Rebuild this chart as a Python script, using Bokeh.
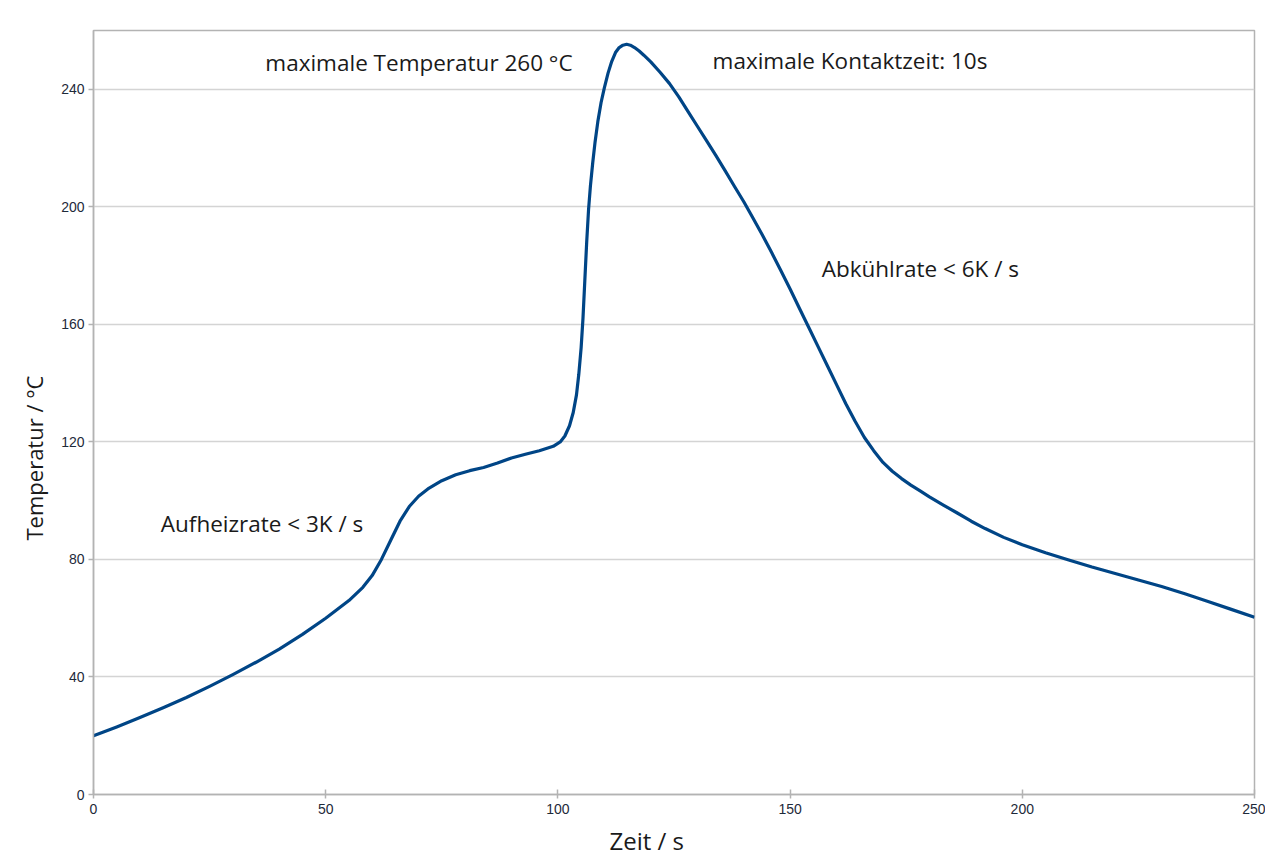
from bokeh.plotting import figure
from bokeh.models import Label, FixedTicker, Range1d, Title
from bokeh.embed import file_html
from bokeh.resources import INLINE

# Data
zeit = [0, 5, 10, 15, 20, 25, 30, 35, 40, 45, 50, 55, 58, 60, 62, 64, 66, 68, 70, 72, 75,
        78, 81, 84, 87, 90, 93, 96, 99, 100.5, 101.5, 102.5, 103.3, 104, 104.5, 105, 105.4,
        105.8, 106.2, 106.6, 107, 107.5, 108, 108.6, 109.3, 110, 110.8, 111.6, 112.4, 113.2,
        114, 114.8, 115.6, 116.5, 117.5, 118.5, 120, 122, 124, 126, 128, 130, 132, 134, 136,
        138, 140, 142, 144, 146, 148, 150, 152, 154, 156, 158, 160, 162, 164, 166, 168, 170,
        172, 174, 176, 178, 180, 183, 186, 189, 192, 196, 200, 205, 210, 215, 220, 225, 230,
        235, 240, 245, 250]
temperatur = [20, 23, 26.2, 29.5, 33, 36.8, 40.8, 45, 49.5, 54.5, 60, 66, 70.5, 74.5, 80,
              86.5, 93, 98, 101.5, 104, 106.8, 108.8, 110.2, 111.3, 112.8, 114.5, 115.8, 117,
              118.5, 120, 122, 125.5, 130, 136, 143, 152, 162, 175, 188, 199, 207, 215, 222,
              229, 235.5, 240.5, 245.5, 249.5, 252.5, 254.2, 255, 255.3, 255, 254.2, 253,
              251.6, 249.3, 245.8, 242, 237.5, 232.5, 227.5, 222.5, 217.5, 212.3, 207, 201.8,
              196.2, 190.5, 184.5, 178.3, 172, 165.5, 159, 152.5, 146, 139.5, 133, 127, 121.5,
              117, 113, 110, 107.5, 105.3, 103.3, 101.3, 98.5, 95.8, 93, 90.5, 87.5, 85, 82.3,
              79.8, 77.4, 75.2, 73, 70.8, 68.3, 65.7, 63, 60.3]
x_ticks = [0, 50, 100, 150, 200, 250]
y_ticks = [0, 40, 80, 120, 160, 200, 240]

annotations = [
    ("maximale Temperatur 260 °C", 37.0, 249.0),
    ("maximale Kontaktzeit: 10s", 133.3, 249.9),
    ("Abkühlrate < 6K / s", 156.8, 179.0),
    ("Aufheizrate < 3K / s", 14.5, 92.3),
]
x_title = "Zeit / s"
y_title = "Temperatur / °C"

p = figure(width=1265, height=863, output_backend="svg", toolbar_location=None,
           x_range=Range1d(0, 250), y_range=Range1d(0, 260),
           min_border_left=93, min_border_right=11, min_border_top=30, min_border_bottom=69)

p.line(zeit, temperatur, line_color="#004586", line_width=3.2, line_join="round")

grey = "#b3b3b3"
p.outline_line_color = grey
p.outline_line_width = 1.5

p.xgrid.grid_line_color = None
p.ygrid.grid_line_color = "#d4d4d4"
p.ygrid.grid_line_width = 1.5

p.xaxis.ticker = FixedTicker(ticks=x_ticks)
p.yaxis.ticker = FixedTicker(ticks=y_ticks)

for ax in (p.xaxis[0], p.yaxis[0]):
    ax.axis_line_color = grey
    ax.axis_line_width = 1.5
    ax.major_tick_line_color = grey
    ax.major_tick_line_width = 1.5
    ax.minor_tick_line_color = None
    ax.major_label_text_font = "Liberation Sans"
    ax.major_label_text_font_size = "14px"
    ax.major_label_text_color = "#1e2a3a"

p.xaxis.major_tick_in = 5
p.xaxis.major_tick_out = 4
p.xaxis.major_label_standoff = 5

p.yaxis.major_tick_in = 0
p.yaxis.major_tick_out = 5
p.yaxis.major_label_standoff = 4

for txt, x, y in annotations:
    p.add_layout(Label(x=x, y=y, text=txt, text_font="Open Sans", text_font_size="22.5px",
                       text_color="#1a1a1a", text_baseline="middle", text_align="left"))

# axis titles (off-centre, as in the reference)
p.add_layout(Title(text=x_title, align="left", offset=516, text_font="Open Sans",
                   text_font_size="24px", text_font_style="normal", text_color="#1a1a1a",
                   standoff=10), "below")
p.add_layout(Title(text=y_title, align="left", offset=254, text_font="Open Sans",
                   text_font_size="22px", text_font_style="normal", text_color="#1a1a1a",
                   standoff=20), "left")

open("out.html", "w").write(file_html(p, INLINE))
